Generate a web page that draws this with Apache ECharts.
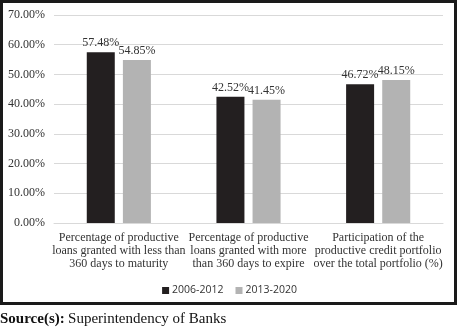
<!DOCTYPE html>
<html>
<head>
<meta charset="utf-8">
<script src="https://cdn.jsdelivr.net/npm/echarts@6/dist/echarts.min.js"></script>
<style>
html,body{margin:0;padding:0;background:#fff;}
#chart{width:459px;height:330px;}
</style>
</head>
<body>
<div id="chart"></div>
<script>
var categories = [
  'Percentage of productive\nloans granted with less than\n360 days to maturity',
  'Percentage of productive\nloans granted with more\nthan 360 days to expire',
  'Participation of the\nproductive credit portfolio\nover the total portfolio (%)'
];
var seriesNames = ['2006-2012', '2013-2020'];
var values2006 = [57.48, 42.52, 46.72];
var values2013 = [54.85, 41.45, 48.15];
var yTicks = [0, 10, 20, 30, 40, 50, 60, 70];

var serif = '"Liberation Serif", "Times New Roman", serif';
var chart = echarts.init(document.getElementById('chart'), null, {renderer: 'canvas'});
chart.setOption({
  animation: false,
  backgroundColor: '#fff',
  grid: {left: 54, right: 16, top: 15, bottom: 107},
  legend: {
    data: seriesNames,
    top: 280,
    left: 'center',
    icon: 'rect',
    itemWidth: 7,
    itemHeight: 7,
    itemGap: 12,
    textStyle: {fontFamily: '"Open Sans", "Liberation Sans", sans-serif', fontSize: 10.5, color: '#333', padding: [0, 0, 0, -2]}
  },
  xAxis: {
    type: 'category',
    data: categories,
    axisLine: {show: true, lineStyle: {color: '#d9d9d9'}},
    axisTick: {show: false},
    axisLabel: {
      interval: 0,
      margin: 8,
      fontFamily: serif,
      fontSize: 12,
      lineHeight: 13,
      color: '#333'
    }
  },
  yAxis: {
    type: 'value',
    min: yTicks[0],
    max: yTicks[yTicks.length - 1],
    interval: 10,
    axisLine: {show: false},
    axisTick: {show: false},
    splitLine: {lineStyle: {color: '#d9d9d9', width: 1}},
    axisLabel: {
      margin: 9,
      fontFamily: serif,
      fontSize: 12,
      color: '#333',
      formatter: function (v) { return v.toFixed(2) + '%'; }
    }
  },
  series: [
    {
      name: seriesNames[0],
      type: 'bar',
      data: values2006,
      barWidth: 28,
      barGap: '29%',
      itemStyle: {color: '#231f20'},
      label: {show: true, position: 'top', distance: 3, fontFamily: serif, fontSize: 12, color: '#333',
        formatter: function (p) { return p.value.toFixed(2) + '%'; }}
    },
    {
      name: seriesNames[1],
      type: 'bar',
      data: values2013,
      barWidth: 28,
      itemStyle: {color: '#b3b3b3'},
      label: {show: true, position: 'top', distance: 3, fontFamily: serif, fontSize: 12, color: '#333',
        formatter: function (p) { return p.value.toFixed(2) + '%'; }}
    }
  ],
  graphic: [
    {
      type: 'rect',
      shape: {x: 1.5, y: 1.5, width: 454, height: 302},
      style: {fill: 'none', stroke: '#1a1a1a', lineWidth: 3},
      silent: true
    },
    {
      type: 'text',
      left: 0,
      top: 312,
      style: {
        text: '{b|Source(s):} {r|Superintendency of Banks}',
        rich: {
          b: {fontFamily: serif, fontSize: 15, fontWeight: 'bold', fill: '#111'},
          r: {fontFamily: serif, fontSize: 15, fill: '#111'}
        }
      }
    }
  ]
});
</script>
</body>
</html>
